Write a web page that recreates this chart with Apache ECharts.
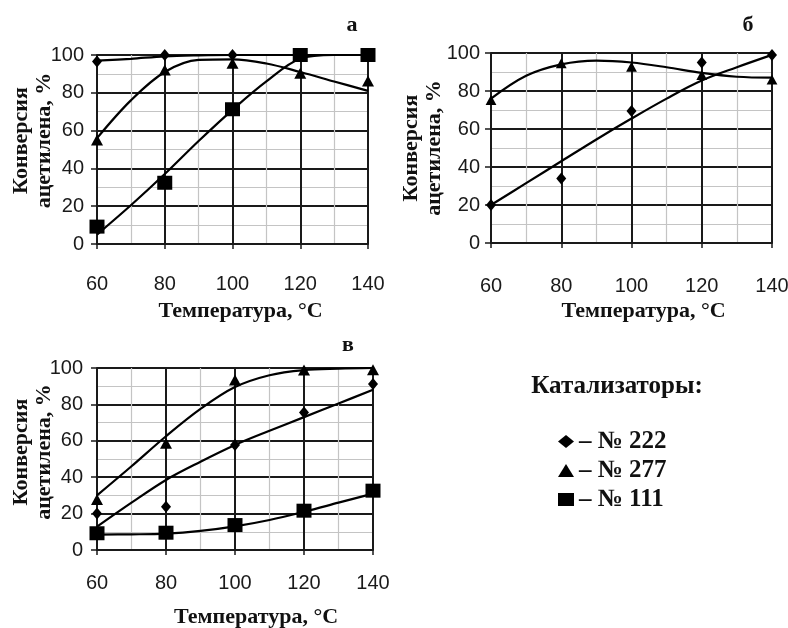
<!DOCTYPE html>
<html>
<head>
<meta charset="utf-8">
<script src="https://cdn.jsdelivr.net/npm/echarts@6/dist/echarts.min.js"></script>
<style>
html,body{margin:0;padding:0;background:#fff;}
#chart{width:788px;height:628px;}
</style>
</head>
<body>
<div id="chart"></div>
<script>
// ---- data ----
const temps = [60, 80, 100, 120, 140];
const trendTemps = [60, 70, 80, 90, 100, 110, 120, 130, 140];
const xTicks = [60, 80, 100, 120, 140];
const yTicks = [0, 20, 40, 60, 80, 100];

// Panel а
const a222 = [96.5, 100, 100, 100, 100];
const a277 = [55, 92, 95.6, 90.3, 86.2];
const a111 = [9.2, 32.4, 71.3, 100, 100];
const a222Trend = [97, 98, 99.3, 99.8, 100, 100, 100, 100, 100];
const a277Trend = [56, 76, 91, 97.4, 97.7, 95.5, 91, 86, 81];
const a111Trend = [5, 20.5, 37, 54.5, 71, 86, 98, 100, 100];

// Panel б
const b222 = [20, 34, 69.5, 95, 99];
const b277 = [75.3, 94.6, 92.8, 88.4, 86];
const b222Trend = [20, 31.5, 43, 54.5, 65.5, 76, 85.5, 92.5, 99];
const b277Trend = [76, 88, 94, 96, 95, 92.5, 89.5, 87.5, 87];

// Panel в
const c222 = [20.1, 23.8, 57.7, 75.5, 91.2];
const c277 = [27.8, 58.6, 93.4, 98.9, 99];
const c111 = [9.2, 9.5, 13.7, 21.6, 32.6];
const c222Trend = [12.8, 26, 38.5, 48.5, 57.7, 65.5, 73, 80.5, 88];
const c277Trend = [30, 46, 62.5, 77.5, 89.5, 96, 98.8, 99.6, 100];
const c111Trend = [8.5, 8.6, 9, 10.5, 13, 16.5, 21, 26, 31];

const panelLetters = ['а', 'б', 'в'];
const catalystNames = ['№ 222', '№ 277', '№ 111'];
const legendTitle = 'Катализаторы:';
const xName = 'Температура, °C';
const yName = 'Конверсия\nацетилена, %';

// ---- styles ----
const SERIF = '"Liberation Serif", "Times New Roman", serif';
const SANS = '"Liberation Sans", Arial, sans-serif';
const MAJOR = '#1a1a1a';
const MINOR = '#c4c4c4';

const grids = [
  {left: 97, top: 55, width: 271, height: 189},
  {left: 491, top: 53, width: 281, height: 190},
  {left: 97, top: 368, width: 276, height: 182}
];
const xLabelMargin = [30, 33, 23];
const yLabelMargin = [13, 11, 14];
const xNameGap = [56, 57, 56];
const xNameShift = [16, 24, 42];
const yNameGap = [41, 45, 41];
const yNameShift = [18, 0, 14];

const xAxes = grids.map((g, i) => ({
  type: 'value', gridIndex: i, min: xTicks[0], max: xTicks[xTicks.length - 1], interval: 20,
  name: xName, nameLocation: 'middle', nameGap: xNameGap[i], nameMoveOverlap: false,
  nameTextStyle: {fontFamily: SERIF, fontWeight: 'bold', fontSize: 22, color: '#111', padding: [0, 0, 0, xNameShift[i]]},
  axisLine: {show: true, lineStyle: {color: MAJOR, width: 2}},
  axisTick: {show: true, length: 5, lineStyle: {color: MAJOR, width: 1.5}},
  axisLabel: {margin: xLabelMargin[i], fontFamily: SANS, fontSize: 20, color: '#1a1a1a'},
  splitLine: {show: true, lineStyle: {color: MAJOR, width: 2}},
  minorTick: {show: false, splitNumber: 2},
  minorSplitLine: {show: true, lineStyle: {color: MINOR, width: 1.2}}
}));
const yAxes = grids.map((g, i) => ({
  type: 'value', gridIndex: i, min: yTicks[0], max: yTicks[yTicks.length - 1], interval: 20,
  name: yName, nameLocation: 'middle', nameGap: yNameGap[i], nameRotate: 90, nameMoveOverlap: false,
  nameTextStyle: {fontFamily: SERIF, fontWeight: 'bold', fontSize: 22, lineHeight: 23, color: '#111', align: 'center', padding: [0, 0, 0, yNameShift[i]]},
  axisLine: {show: true, lineStyle: {color: MAJOR, width: 2}},
  axisTick: {show: true, length: 6, lineStyle: {color: MAJOR, width: 1.5}},
  axisLabel: {margin: yLabelMargin[i], fontFamily: SANS, fontSize: 20, color: '#1a1a1a'},
  splitLine: {show: true, lineStyle: {color: MAJOR, width: 2}},
  minorTick: {show: false, splitNumber: 2},
  minorSplitLine: {show: true, lineStyle: {color: MINOR, width: 1.2}}
}));

function pts(xs, ys) { return xs.map((x, i) => [x, ys[i]]); }
function trend(idx, ys) {
  return {type: 'line', xAxisIndex: idx, yAxisIndex: idx, data: pts(trendTemps, ys),
    smooth: 0.35, showSymbol: false, symbol: 'none', silent: true, z: 3,
    lineStyle: {color: '#000', width: 2.2}, itemStyle: {color: '#000'}};
}
const markerDefs = {
  '№ 222': {symbol: 'diamond', size: [10, 12]},
  '№ 277': {symbol: 'triangle', size: [12, 11]},
  '№ 111': {symbol: 'rect', size: [15, 14]}
};
function marks(idx, name, ys, scale) {
  const d = markerDefs[name];
  const s = scale || 1;
  return {type: 'scatter', name: name, xAxisIndex: idx, yAxisIndex: idx, data: pts(temps, ys),
    symbol: d.symbol, symbolSize: [d.size[0] * s, d.size[1] * s], z: 4,
    itemStyle: {color: '#000', opacity: 1}};
}

const series = [
  trend(0, a222Trend), trend(0, a277Trend), trend(0, a111Trend),
  marks(0, catalystNames[0], a222), marks(0, catalystNames[1], a277), marks(0, catalystNames[2], a111),
  trend(1, b222Trend), trend(1, b277Trend),
  marks(1, catalystNames[0], b222), marks(1, catalystNames[1], b277, 0.9),
  trend(2, c222Trend), trend(2, c277Trend), trend(2, c111Trend),
  marks(2, catalystNames[0], c222), marks(2, catalystNames[1], c277), marks(2, catalystNames[2], c111)
];

const letterPos = [[352, 25], [748, 25], [348, 345]];

const option = {
  animation: false,
  backgroundColor: '#fff',
  grid: grids.map(g => Object.assign({containLabel: false, outerBoundsMode: 'none'}, g)),
  xAxis: xAxes,
  yAxis: yAxes,
  legend: {
    orient: 'vertical', left: 553, top: 422, itemGap: 0, itemWidth: 16, itemHeight: 13,
    selectedMode: false,
    data: [
      {name: catalystNames[0], icon: 'diamond'},
      {name: catalystNames[1], icon: 'triangle'},
      {name: catalystNames[2], icon: 'rect'}
    ],
    formatter: n => '– ' + n,
    textStyle: {fontFamily: SERIF, fontWeight: 'bold', fontSize: 25, lineHeight: 29, color: '#111'}
  },
  graphic: [
    ...panelLetters.map((t, i) => ({type: 'text', x: letterPos[i][0], y: letterPos[i][1],
      style: {text: t, fontFamily: SERIF, fontWeight: 'bold', fontSize: 22, fill: '#111', textAlign: 'center', textVerticalAlign: 'middle'}})),
    {type: 'text', x: 617, y: 387, style: {text: legendTitle, fontFamily: SERIF, fontWeight: 'bold', fontSize: 25, fill: '#111', textAlign: 'center', textVerticalAlign: 'middle'}}
  ],
  series: series
};

const chart = echarts.init(document.getElementById('chart'), null, {renderer: 'canvas'});
chart.setOption(option);
</script>
</body>
</html>
